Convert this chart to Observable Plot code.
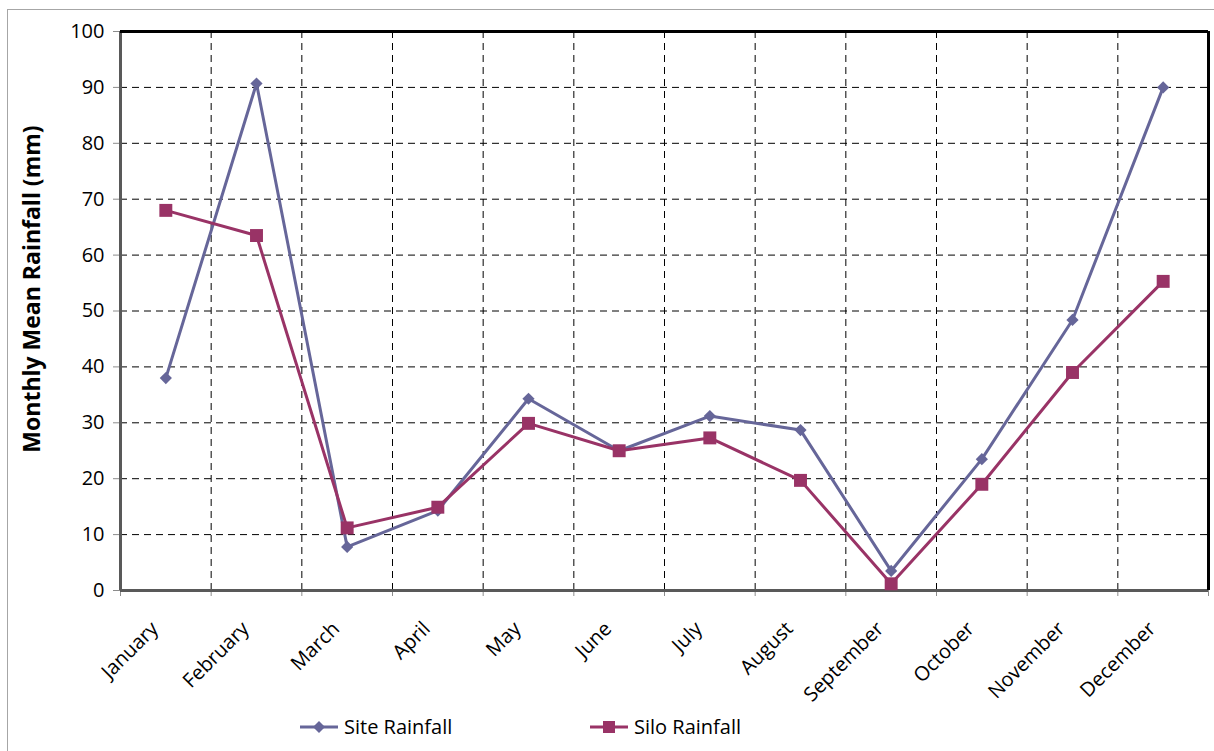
<!DOCTYPE html>
<html>
<head>
<meta charset="utf-8">
<script src="https://cdn.jsdelivr.net/npm/d3@7"></script>
<script src="https://cdn.jsdelivr.net/npm/@observablehq/plot@0.6"></script>
<style>
  body { margin: 0; background: #fff; font-family: "Open Sans", sans-serif; }
  #wrap { position: relative; width: 1214px; height: 751px; overflow: hidden; }
  #border { position: absolute; left: 7px; top: 9px; width: 1230px; height: 780px;
            border: 1.5px solid #a6a6a6; box-sizing: border-box; }
  #chart { position: absolute; left: 0; top: 0; }
  #legend { position: absolute; left: 0; top: 713px; width: 1214px; height: 30px;
            font-size: 20px; color: #000; }
  .item { position: absolute; top: 0; display: flex; align-items: center; gap: 6px; white-space: nowrap; }
</style>
</head>
<body>
<div id="wrap">
  <div id="border"></div>
  <div id="chart"></div>
  <div id="legend"></div>
</div>
<script>
// Monthly mean rainfall: on-site gauge versus SILO gridded data
const months = ["January", "February", "March", "April", "May", "June",
                "July", "August", "September", "October", "November", "December"];
const siteRainfall = [38, 90.7, 7.8, 14.3, 34.3, 25, 31.2, 28.7, 3.5, 23.5, 48.4, 90];
const siloRainfall = [68, 63.5, 11.2, 14.9, 29.9, 25, 27.3, 19.7, 1.2, 19, 39, 55.3];
const yTicks = [0, 10, 20, 30, 40, 50, 60, 70, 80, 90, 100];
const seriesNames = ["Site Rainfall", "Silo Rainfall"];
const siteColor = "#666699";
const siloColor = "#993366";

// Months sit at integer positions; category boundaries fall halfway between
const idx = months.map((_, i) => i);
const bounds = d3.range(months.length + 1).map(i => i - 0.5);
const site = idx.map(i => ({i, value: siteRainfall[i]}));
const silo = idx.map(i => ({i, value: siloRainfall[i]}));

const dash = {stroke: "#000", strokeOpacity: 1, strokeWidth: 1, strokeDasharray: "7,5"};

const chart = Plot.plot({
  width: 1214,
  height: 751,
  marginLeft: 120,
  marginRight: 6,
  marginTop: 31,
  marginBottom: 161,
  style: {fontFamily: "'Open Sans', sans-serif", fontSize: "20px", color: "#000", background: "transparent"},
  x: {type: "linear", domain: [bounds[0], bounds[bounds.length - 1]]},
  y: {domain: [yTicks[0], yTicks[yTicks.length - 1]]},
  marks: [
    // dashed grid
    Plot.gridY(yTicks.slice(1, -1), dash),
    Plot.gridX(bounds.slice(1, -1), dash),
    // axes
    Plot.axisY(yTicks, {tickSize: 7, tickPadding: 9, stroke: "#8c8c8c", fontSize: 20, label: null}),
    Plot.axisX(bounds, {tickSize: 6, stroke: "#8c8c8c", tickFormat: () => "", label: null}),
    Plot.axisX(idx, {tickSize: 0, tickPadding: 35, tickRotate: -45, dx: -11, fontSize: 20,
                     tickFormat: i => months[i], label: null}),
    Plot.text(["Monthly Mean Rainfall (mm)"], {frameAnchor: "left", textAnchor: "middle", rotate: -90,
                     dx: -88, dy: -22, fontWeight: "bold", fontSize: 23}),
    // plot-area border: dark left/bottom axis lines, black top/right
    Plot.ruleY([yTicks[0]], {stroke: "#595959", strokeWidth: 3}),
    Plot.ruleX([bounds[0]], {stroke: "#595959", strokeWidth: 3}),
    Plot.ruleY([yTicks[yTicks.length - 1]], {stroke: "#000", strokeWidth: 3}),
    Plot.ruleX([bounds[bounds.length - 1]], {stroke: "#000", strokeWidth: 3}),
    // series
    Plot.line(site, {x: "i", y: "value", stroke: siteColor, strokeWidth: 3}),
    Plot.dot(site, {x: "i", y: "value", symbol: "diamond2", fill: siteColor, stroke: "none", r: 5.5}),
    Plot.line(silo, {x: "i", y: "value", stroke: siloColor, strokeWidth: 3}),
    Plot.dot(silo, {x: "i", y: "value", symbol: "square", fill: siloColor, stroke: "none", r: 7.3})
  ]
});
document.getElementById("chart").appendChild(chart);

// Legend under the plot area
const legend = document.getElementById("legend");
const swatch = (color, marker) => {
  const m = marker === "diamond"
    ? `<path d="M19,1 L25,7 L19,13 L13,7 Z" fill="${color}"/>`
    : `<rect x="13" y="1" width="12" height="12" fill="${color}"/>`;
  return `<svg width="38" height="14"><line x1="0" x2="38" y1="7" y2="7" stroke="${color}" stroke-width="3"/>${m}</svg>`;
};
[[seriesNames[0], siteColor, "diamond", 300], [seriesNames[1], siloColor, "square", 590]]
  .forEach(([name, color, marker, left]) => {
    const el = document.createElement("div");
    el.className = "item";
    el.style.left = left + "px";
    el.innerHTML = swatch(color, marker) + `<span>${name}</span>`;
    legend.appendChild(el);
  });
</script>
</body>
</html>
